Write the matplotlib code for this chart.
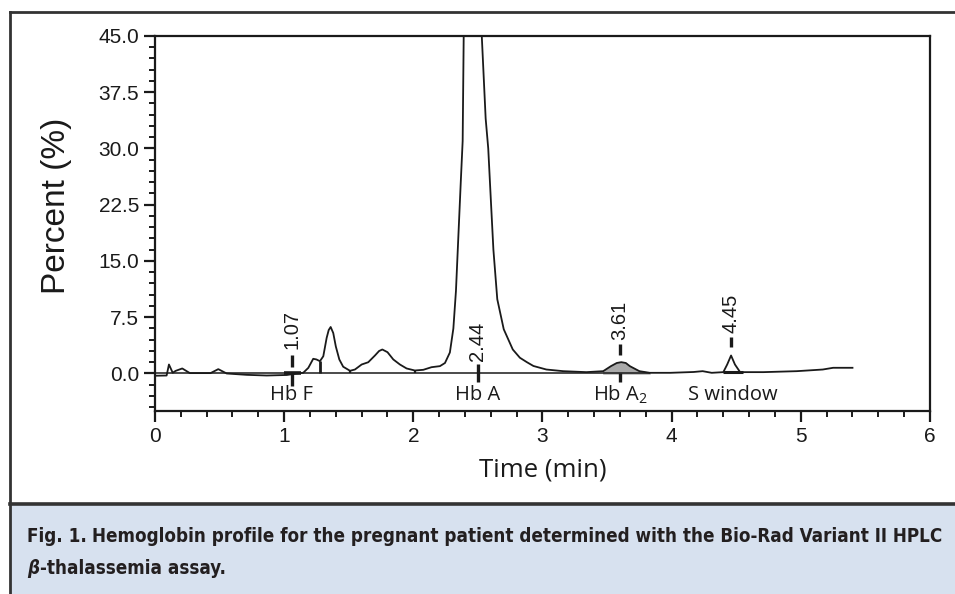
import matplotlib
matplotlib.use("Agg")
import matplotlib.pyplot as plt
from matplotlib.lines import Line2D
from matplotlib.patches import Rectangle
from matplotlib.ticker import MultipleLocator, FormatStrFormatter
import numpy as np

# chromatogram (time in min, percent)
time = [0.0, 0.09, 0.108, 0.137, 0.16, 0.211, 0.27, 0.35, 0.43, 0.49, 0.555,
        0.71, 0.865, 1.02, 1.097, 1.148, 1.187, 1.225, 1.25, 1.277, 1.303,
        1.329, 1.345, 1.36, 1.38, 1.40, 1.427, 1.457, 1.51, 1.548, 1.60,
        1.651, 1.703, 1.735, 1.76, 1.80, 1.845, 1.896, 1.948, 2.012, 2.077,
        2.141, 2.206, 2.245, 2.283, 2.31, 2.33, 2.35, 2.367, 2.382, 2.39,
        2.41, 2.46, 2.51, 2.53, 2.56, 2.58, 2.60, 2.62, 2.65, 2.70, 2.77,
        2.825, 2.88, 2.93, 3.03, 3.16, 3.34, 3.47, 3.53, 3.575, 3.61, 3.645,
        3.676, 3.75, 3.83, 3.99, 4.17, 4.24, 4.31, 4.40, 4.43, 4.46, 4.49,
        4.53, 4.71, 4.97, 5.17, 5.25, 5.40]
percent = [-0.3, -0.27, 1.2, 0.1, 0.35, 0.67, 0.05, 0.05, 0.05, 0.58, 0.0,
           -0.18, -0.27, -0.2, 0.0, 0.1, 0.75, 1.96, 1.87, 1.64, 2.3,
           4.75, 5.8, 6.2, 5.4, 3.6, 1.87, 0.9, 0.36, 0.53, 1.2,
           1.5, 2.4, 3.0, 3.2, 2.84, 1.87, 1.2, 0.67, 0.4, 0.49,
           0.84, 0.98, 1.4, 2.8, 6.0, 11.0, 18.8, 25.4, 31.0, 45.0,
           60.0, 70.0, 60.0, 45.0, 34.0, 30.0, 23.2, 16.5, 9.9, 5.9, 3.2,
           2.1, 1.5, 1.0, 0.53, 0.31, 0.18, 0.31, 0.98, 1.4, 1.51, 1.4,
           0.98, 0.31, 0.09, 0.09, 0.2, 0.31, 0.09, 0.18, 1.2, 2.4, 1.2,
           0.18, 0.18, 0.31, 0.53, 0.76, 0.76]

peak_times = ["1.07", "2.44", "3.61", "4.45"]
peak_x = [1.06, 2.50, 3.60, 4.46]
hb_names = ["Hb F", "Hb A", "Hb A$_2$", "S window"]
hb_x = [1.06, 2.50, 3.60, 4.47]

t = np.array(time)
p = np.array(percent)

plt.rcParams["mathtext.fontset"] = "custom"
plt.rcParams["mathtext.rm"] = "Open Sans"
plt.rcParams["mathtext.it"] = "Open Sans"

fig = plt.figure(figsize=(9.55, 5.94), dpi=100)
ax = fig.add_axes([0.1623, 0.3081, 0.8115, 0.6313])

ink = "#1a1a1a"
ax.plot(t, p, color=ink, lw=1.3, zorder=3)
a2 = (t >= 3.45) & (t <= 3.84)
ax.fill_between(t[a2], 0, p[a2], color="#a9a9a9", zorder=2)

# integration baselines and drop lines
ax.hlines(0, 0, 3.83, color=ink, lw=1.1, zorder=2)
ax.hlines(0.0, 1.0, 1.13, color=ink, lw=2.6, zorder=2)
ax.hlines(0.15, 4.40, 4.55, color=ink, lw=2.2, zorder=2)
ax.vlines(1.277, 0, 1.64, color=ink, lw=2.0)
ax.vlines([1.51, 2.012], 0, 0.45, color=ink, lw=1.6)

# peak markers and retention time labels
dash_lo = [0.9, -1.2, 2.4, 3.5]
dash_hi = [2.4, 1.2, 3.9, 4.9]
text_y = [3.3, 1.6, 4.4, 5.4]
for lab, x, lo, hi, ty in zip(peak_times, peak_x, dash_lo, dash_hi, text_y):
    ax.vlines(x, lo, hi, color=ink, lw=2.4, zorder=4)
    ax.text(x, ty, lab, rotation=90, ha="center", va="bottom",
            family="Liberation Sans", fontsize=14.5, color=ink)
ax.vlines(peak_x[0], -1.7, 0, color=ink, lw=2.4)
ax.vlines(peak_x[2], -1.2, 0, color=ink, lw=2.4)

for name, x in zip(hb_names, hb_x):
    ax.text(x, -2.9, name, ha="center", va="center",
            family="Open Sans", fontsize=14.5, color=ink)

ax.set_xlim(0, 6)
ax.set_ylim(-5, 45)
ax.xaxis.set_major_locator(MultipleLocator(1))
ax.xaxis.set_minor_locator(MultipleLocator(0.2))
ax.yaxis.set_major_locator(MultipleLocator(7.5))
ax.yaxis.set_minor_locator(MultipleLocator(1.5))
ax.yaxis.set_major_formatter(FormatStrFormatter("%.1f"))
ax.set_yticks(np.arange(0, 45.1, 7.5))

ax.tick_params(which="major", direction="out", length=8, width=1.6,
               labelsize=15, color=ink, labelcolor=ink)
ax.tick_params(which="minor", direction="out", length=4.5, width=1.4, color=ink)
for lab in ax.get_xticklabels() + ax.get_yticklabels():
    lab.set_family("Liberation Sans")
for s in ax.spines.values():
    s.set_linewidth(1.6)
    s.set_color(ink)

ax.set_ylabel("Percent (%)", family="Liberation Sans", fontsize=24, color=ink)
ax.yaxis.set_label_coords(-0.107, 0.547)
ax.set_xlabel("Time (min)", family="Open Sans", fontsize=18.5,
              color=ink, labelpad=8)

# figure frame and caption box
W, H = 955, 594
fig.add_artist(Rectangle((10 / W, 0), 1 - 10 / W, 90 / H, transform=fig.transFigure,
                         facecolor="#d7e1ef", edgecolor="none", zorder=0))
frame = dict(color="#333333", lw=2.0, transform=fig.transFigure)
fig.add_artist(Line2D([10 / W, 1], [1 - 12 / H, 1 - 12 / H], **frame))
fig.add_artist(Line2D([10 / W, 10 / W], [0, 1 - 12 / H], **frame))
fig.add_artist(Line2D([10 / W, 1], [90 / H, 90 / H], lw=2.6, color="#333333",
                      transform=fig.transFigure))

cap_font = ["Liberation Sans Narrow", "DejaVu Sans"]
cap_col = "#231f20"
cap_kw = dict(family=cap_font, weight="bold", color=cap_col, va="center",
              stretch="condensed")
y1, y2 = 1 - 537 / H, 1 - 568 / H
head = fig.text(27 / W, y1, "Fig. 1.", **cap_kw)
body = fig.text(0, y1, "Hemoglobin profile for the pregnant patient determined "
                "with the Bio-Rad Variant II HPLC", **cap_kw)
beta = fig.text(27 / W, y2, "β", style="italic", **cap_kw)
tail = fig.text(0, y2, "-thalassemia assay.", **cap_kw)

r = fig.canvas.get_renderer()


def place(size):
    for tx in (head, body, beta, tail):
        tx.set_fontsize(size)
    body.set_x(head.get_window_extent(r).x1 / W + 5 / W)
    tail.set_x(beta.get_window_extent(r).x1 / W + 1 / W)
    return body.get_window_extent(r).x1 - 27


size = 15.0
width = place(size)
size *= 918 / width
place(size)

fig.savefig("out.png", dpi=100)
